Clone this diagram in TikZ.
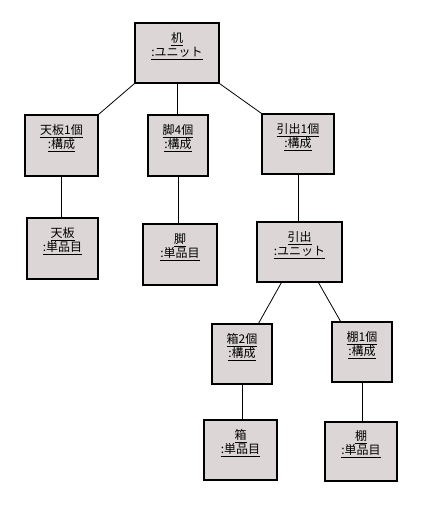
\documentclass[tikz,border=0pt]{standalone}
\usepackage{fontspec}
\newfontfamily\jpfont{Noto Sans CJK JP}
\usetikzlibrary{fit,calc}
\definecolor{boxfill}{RGB}{220,214,214}
\tikzset{
  objbox/.style={draw=black, line width=1pt, fill=boxfill, inner sep=0pt},
  objtext/.style={font=\jpfont\fontsize{9pt}{10.5pt}\selectfont, align=center, inner sep=0pt},
  link/.style={draw=black, line width=0.6pt}
}
\newcommand{\objnode}[7]{%
  \node[objbox, fit={(#2,#3)(#4,#5)}] (#1) {};
  \node[objtext] (#1t) at ($(#1.center)+(0,-7)$) {\underline{#6}\\\underline{#7}};
}
\begin{document}
\begin{tikzpicture}[x=0.75pt,y=-0.75pt]
\useasboundingbox (0,0) rectangle (422,506);
\objnode{A}{135}{23}{219}{83}{机}{:ユニット}
\objnode{B}{25}{115}{98}{176}{天板1個}{:構成}
\objnode{C}{148}{115}{208}{176}{脚4個}{:構成}
\objnode{D}{262}{114}{334}{174}{引出1個}{:構成}
\objnode{E}{27}{218}{98}{279}{天板}{:単品目}
\objnode{F}{143}{224}{217}{285}{脚}{:単品目}
\objnode{G}{257}{222}{342}{282}{引出}{:ユニット}
\objnode{H}{212}{324}{272}{384}{箱2個}{:構成}
\objnode{I}{332}{322}{392}{382}{棚1個}{:構成}
\objnode{J}{204}{420}{277}{480}{箱}{:単品目}
\objnode{K}{325}{422}{397}{481}{棚}{:単品目}
\draw[link] (A.south west) -- (B.north east);
\draw[link] (A.south) -- (A.south |- C.north);
\draw[link] (A.south east) -- (D.north west);
\draw[link] (B.south) -- (B.south |- E.north);
\draw[link] (C.south) -- (C.south |- F.north);
\draw[link] (D.south) -- (D.south |- G.north);
\draw[link] ($(G.south west)!0.29!(G.south east)$) -- ($(H.north west)!0.77!(H.north east)$);
\draw[link] ($(G.south west)!0.72!(G.south east)$) -- ($(I.north west)!0.15!(I.north east)$);
\draw[link] (H.south) -- (H.south |- J.north);
\draw[link] (I.south) -- (I.south |- K.north);
\end{tikzpicture}
\end{document}
